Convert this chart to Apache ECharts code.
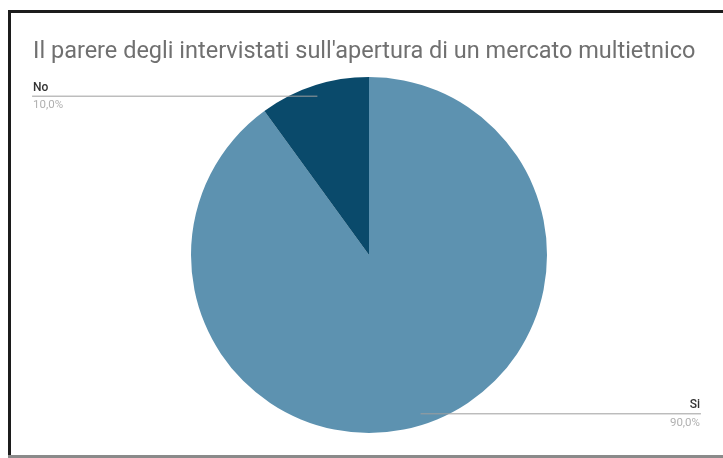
<!DOCTYPE html>
<html>
<head>
<meta charset="utf-8">
<script src="https://cdn.jsdelivr.net/npm/echarts@6/dist/echarts.min.js"></script>
<style>html,body{margin:0;padding:0;background:#fff}#c{width:723px;height:458px}</style>
</head>
<body>
<div id="c"></div>
<script>
const titleText = "Il parere degli intervistati sull'apertura di un mercato multietnico";
const categories = ['Si', 'No'];
const values = [90, 10];
const percentLabels = ['90,0%', '10,0%'];
const colors = ['#5d92b0', '#0a4a6b'];

const chart = echarts.init(document.getElementById('c'), null, {renderer: 'canvas'});
const data = categories.map((c, i) => ({name: c, value: values[i], itemStyle: {color: colors[i]}}));
const labelData = categories.map((c, i) => ({name: c, value: values[i], pct: percentLabels[i]}));

chart.setOption({
  animation: false,
  backgroundColor: '#fff',
  title: {
    text: titleText,
    left: 28, top: 35,
    textStyle: {fontFamily: 'Roboto', fontWeight: 'normal', fontSize: 23.5, color: '#707070'}
  },
  graphic: [
    {type: 'rect', shape: {x: 8, y: 10, width: 715, height: 3}, style: {fill: '#1c1c1c'}, z: 100},
    {type: 'rect', shape: {x: 8, y: 10, width: 3, height: 448}, style: {fill: '#1c1c1c'}, z: 100},
    {type: 'rect', shape: {x: 8, y: 455, width: 715, height: 3}, style: {fill: '#8a8a8a'}, z: 100}
  ],
  series: [
    {
      type: 'pie',
      center: [369, 255],
      radius: 178,
      startAngle: 90,
      clockwise: true,
      label: {show: false},
      labelLine: {show: false},
      silent: true,
      itemStyle: {borderWidth: 0},
      data: data
    },
    {
      type: 'pie',
      left: 33, right: 23, top: 0, bottom: 0,
      center: [336, 255],
      radius: 167,
      startAngle: 90,
      clockwise: true,
      silent: true,
      z: 5,
      itemStyle: {color: 'rgba(0,0,0,0)', borderWidth: 0},
      label: {
        show: true,
        position: 'outside',
        alignTo: 'edge',
        edgeDistance: 0,
        distanceToLabelLine: -31,
        formatter: p => '{n|' + p.name + '}\n{p|' + p.data.pct + '}',
        rich: {
          n: {fontFamily: 'Roboto', fontSize: 12, fontWeight: 500, color: '#333', lineHeight: 18},
          p: {fontFamily: 'Roboto', fontSize: 11.5, color: '#b0b0b0', lineHeight: 17}
        }
      },
      labelLine: {show: true, length: 0, length2: 10, smooth: false, lineStyle: {color: '#9e9e9e', width: 1}},
      data: labelData
    }
  ]
});
</script>
</body>
</html>
